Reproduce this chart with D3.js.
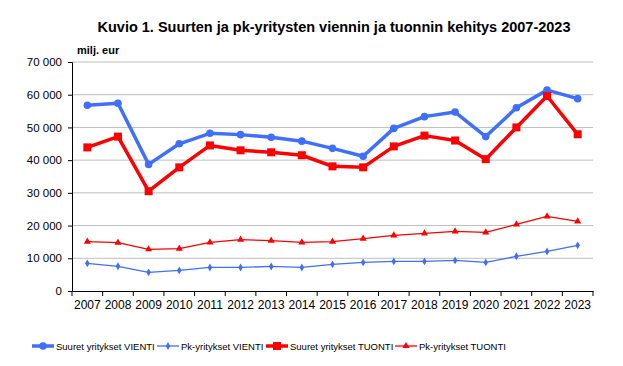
<!DOCTYPE html>
<html>
<head>
    <meta charset="utf-8">
    <script src="https://d3js.org/d3.v7.min.js"></script>
    <style>
        body { margin: 0; background: #fff; }
        svg text { font-family: "Liberation Sans", Arial, sans-serif; fill: #000; }
        .grid line { stroke: #bebebe; stroke-width: 1; }
        .axis path, .axis line { stroke: #000; }
    </style>
</head>
<body>
<div id="chart"></div>
<script>
    // data (milj. eur)
    const years = ["2007", "2008", "2009", "2010", "2011", "2012", "2013", "2014", "2015",
        "2016", "2017", "2018", "2019", "2020", "2021", "2022", "2023"];
    const suuretVienti = [56800, 57400, 38700, 45000, 48200, 47800, 47000, 45800, 43600,
        41200, 49700, 53300, 54700, 47200, 56000, 61400, 58800];
    const pkVienti = [8450, 7550, 5700, 6300, 7200, 7200, 7500, 7200, 8150,
        8750, 9050, 9050, 9350, 8750, 10600, 12100, 13950];
    const suuretTuonti = [43900, 47200, 30500, 37800, 44500, 43000, 42400, 41500, 38100,
        37800, 44200, 47500, 46000, 40300, 50000, 59600, 47900];
    const pkTuonti = [15100, 14800, 12750, 12950, 14850, 15700, 15400, 14850, 15100,
        16000, 17000, 17600, 18200, 17900, 20350, 22800, 21300];
    const yTicks = [0, 10000, 20000, 30000, 40000, 50000, 60000, 70000];

    const series = [
        { name: "Suuret yritykset VIENTI", values: suuretVienti, color: "#3f6ffb", width: 3.5, marker: "circle" },
        { name: "Pk-yritykset VIENTI", values: pkVienti, color: "#3f6ffb", width: 1.3, marker: "diamond" },
        { name: "Suuret yritykset TUONTI", values: suuretTuonti, color: "#ff0000", width: 3.5, marker: "square" },
        { name: "Pk-yritykset TUONTI", values: pkTuonti, color: "#ff0000", width: 1.3, marker: "triangle" }
    ];

    const W = 623, H = 366;
    const margin = { top: 62, right: 30, bottom: 75, left: 72 };
    const width = 593 - margin.left,
        height = 291 - margin.top;

    const svg = d3.select("#chart").append("svg")
        .attr("width", W)
        .attr("height", H);

    svg.append("text")
        .attr("x", 334)
        .attr("y", 32)
        .attr("text-anchor", "middle")
        .attr("font-size", "14.5px")
        .attr("font-weight", "bold")
        .text("Kuvio 1. Suurten ja pk-yritysten viennin ja tuonnin kehitys 2007-2023");

    svg.append("text")
        .attr("x", 77)
        .attr("y", 54)
        .attr("font-size", "11px")
        .attr("font-weight", "bold")
        .text("milj. eur");

    const g = svg.append("g")
        .attr("transform", "translate(" + margin.left + "," + margin.top + ")");

    const x = d3.scaleBand().domain(years).range([0, width]);
    const y = d3.scaleLinear().domain([0, 70000]).range([height, 0]);

    // gridlines
    g.append("g")
        .attr("class", "grid")
        .selectAll("line")
        .data(yTicks.filter(d => d > 0))
        .enter().append("line")
        .attr("x1", 0)
        .attr("x2", width)
        .attr("y1", d => y(d))
        .attr("y2", d => y(d));

    const fmt = d => d3.format(",")(d).replace(/,/g, " ");

    g.append("g")
        .attr("class", "axis")
        .call(d3.axisLeft(y).tickValues(yTicks).tickFormat(fmt).tickSize(4).tickPadding(6))
        .call(a => a.selectAll("text").attr("font-size", "11.5px"));

    const xAxis = g.append("g")
        .attr("class", "axis")
        .attr("transform", "translate(0," + height + ")")
        .call(d3.axisBottom(x).tickSize(0).tickPadding(9))
        .call(a => a.selectAll("text").attr("font-size", "12px"));

    // tick marks between categories
    xAxis.selectAll(".sep")
        .data(d3.range(years.length + 1))
        .enter().append("line")
        .attr("class", "sep")
        .attr("x1", i => i * x.bandwidth())
        .attr("x2", i => i * x.bandwidth())
        .attr("y1", 0)
        .attr("y2", 5)
        .attr("stroke", "#000");

    const cx = i => x(years[i]) + x.bandwidth() / 2;

    const line = d3.line()
        .x((d, i) => cx(i))
        .y(d => y(d));

    function drawMarker(sel, type, color, px, py) {
        if (type === "circle") {
            sel.append("circle").attr("cx", px).attr("cy", py).attr("r", 3.8).attr("fill", color);
        } else if (type === "square") {
            sel.append("rect").attr("x", px - 4).attr("y", py - 4).attr("width", 8).attr("height", 8).attr("fill", color);
        } else if (type === "diamond") {
            sel.append("path").attr("d", d3.symbol(d3.symbolDiamond, 18)()).attr("transform", "translate(" + px + "," + py + ")").attr("fill", color);
        } else if (type === "triangle") {
            sel.append("path").attr("d", d3.symbol(d3.symbolTriangle, 22)()).attr("transform", "translate(" + px + "," + py + ")").attr("fill", color);
        }
    }

    series.forEach(s => {
        const sg = g.append("g");
        sg.append("path")
            .datum(s.values)
            .attr("fill", "none")
            .attr("stroke", s.color)
            .attr("stroke-width", s.width)
            .attr("stroke-linejoin", "round")
            .attr("d", line);
        s.values.forEach((v, i) => drawMarker(sg, s.marker, s.color, cx(i), y(v)));
    });

    // legend
    const legendX = [32, 157, 266, 395];
    const legend = svg.append("g")
        .selectAll("g")
        .data(series)
        .enter().append("g")
        .attr("transform", (d, i) => "translate(" + legendX[i] + ",346)");

    legend.each(function (s) {
        const lg = d3.select(this);
        lg.append("line")
            .attr("x1", 0).attr("x2", 22)
            .attr("stroke", s.color)
            .attr("stroke-width", s.width);
        drawMarker(lg, s.marker, s.color, 11, 0);
        lg.append("text")
            .attr("x", 24)
            .attr("y", 3.5)
            .attr("font-size", "9.5px")
            .text(s.name);
    });
</script>
</body>
</html>
